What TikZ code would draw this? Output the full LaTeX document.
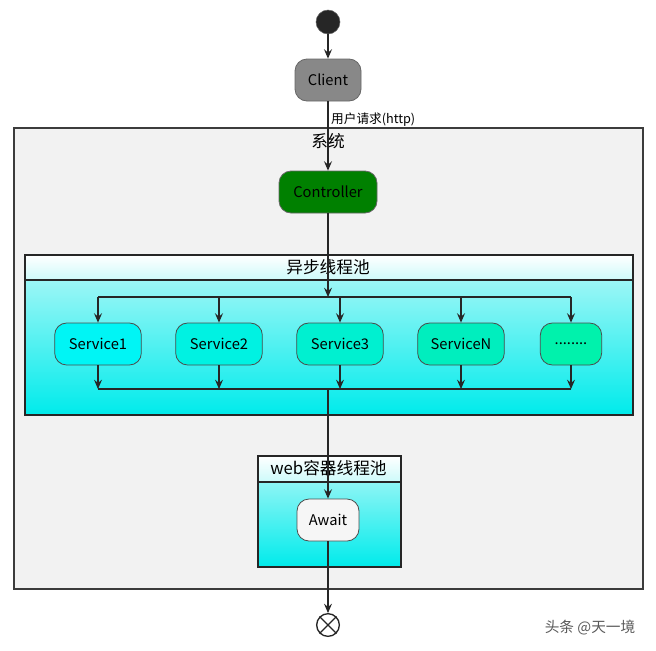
\documentclass[tikz,border=0pt]{standalone}
\usepackage{fontspec}
\setmainfont{Noto Sans CJK SC}
\usetikzlibrary{arrows.meta,calc}
\definecolor{sysfill}{RGB}{242,242,242}
\definecolor{sysdraw}{RGB}{60,60,60}
\definecolor{clientgray}{RGB}{136,136,136}
\definecolor{ctrlgreen}{RGB}{0,128,0}
\definecolor{poolhead}{RGB}{205,250,250}
\definecolor{pooltop}{RGB}{185,248,248}
\definecolor{poolbot}{RGB}{0,235,235}
\definecolor{svcone}{RGB}{0,245,245}
\definecolor{svctwo}{RGB}{0,242,226}
\definecolor{svcthree}{RGB}{0,240,208}
\definecolor{svcfour}{RGB}{0,238,190}
\definecolor{svcfive}{RGB}{0,242,172}
\definecolor{awaitfill}{RGB}{246,246,246}
\definecolor{wmark}{RGB}{90,90,90}
\tikzset{
  flow/.style={draw=black!85, line width=0.8pt, -{Stealth[length=7pt,width=6pt,inset=2.5pt]}},
  bar/.style={draw=black!85, line width=1.3pt},
  act/.style={draw=black!70, line width=0.6pt, rounded corners=9pt, minimum height=31.5pt, font=\fontsize{11}{13}\selectfont, inner sep=0pt},
  svc/.style={act, minimum width=65pt},
  container/.style={draw=sysdraw, line width=1.2pt, inner sep=0pt, anchor=north west},
  pooltitle/.style={font=\fontsize{12.5}{14}\selectfont},
}
\begin{document}
\begin{tikzpicture}[x=0.75pt,y=-0.75pt]
\useasboundingbox (0,0) rectangle (656,650);
\fill[white] (0,0) rectangle (656,650);

% system container
\node[container, fill=sysfill, minimum width=471.75pt, minimum height=345.75pt] (sys) at (13,127) {};
\node[pooltitle] (systitle) at (328,141) {系统};

% start
\node[circle, fill=black!85, draw=black!60, minimum size=18pt, inner sep=0pt] (start) at (328,22) {};
\node[act, fill=clientgray, minimum width=49.5pt, draw=black!60] (client) at (328,80) {Client};
\node[act, fill=ctrlgreen, minimum width=73.5pt, draw=black!60] (ctrl) at (328,192) {Controller};

% async pool
\node[container, draw=black!85, top color=pooltop, bottom color=poolbot, minimum width=456pt, minimum height=120pt] (pool) at (24,254) {};
\node[container, draw=black!85, top color=white, bottom color=poolhead, minimum width=456pt, minimum height=18.75pt] (poolhead) at (24,254) {};
\node[pooltitle] (pooltitle) at (328,267) {异步线程池};

\coordinate (forkL) at (98,297);
\coordinate (forkR) at (571,297);
\coordinate (forkM) at (328,297);
\coordinate (joinL) at (98,389);
\coordinate (joinR) at (571,389);
\coordinate (joinM) at (328,389);

\node[svc, fill=svcone] (s1) at (98,344) {Service1};
\node[svc, fill=svctwo] (s2) at (219,344) {Service2};
\node[svc, fill=svcthree] (s3) at (340,344) {Service3};
\node[svc, fill=svcfour] (sN) at (461,344) {ServiceN};
\node[act, fill=svcfive, minimum width=46pt] (sx) at (571,344) {........};

% web container pool
\node[container, draw=black!85, top color=pooltop, bottom color=poolbot, minimum width=107.25pt, minimum height=83.25pt] (web) at (257,455) {};
\node[container, draw=black!85, top color=white, bottom color=poolhead, minimum width=107.25pt, minimum height=19.5pt] (webhead) at (257,455) {};
\node[pooltitle] (webtitle) at (328.5,468) {web容器线程池};
\node[act, fill=awaitfill, minimum width=46.5pt] (await) at (328,520) {Await};

% end
\node[circle, draw=black!85, line width=1pt, minimum size=17pt, inner sep=0pt, fill=white] (end) at (328,625) {};
\draw[black!85, line width=1pt] (end.north east) -- (end.south west) (end.north west) -- (end.south east);

% connectors
\draw[flow] (start) -- (client);
\draw[flow] (client) -- (ctrl) node[pos=0.26, anchor=west, inner sep=2pt, font=\fontsize{9.5}{11}\selectfont] (req) {用户请求(http)};
\draw[flow] (ctrl) -- (forkM);
\draw[bar] (forkL) -- (forkR);
\foreach \s in {s1,s2,s3,sN,sx} {
  \draw[flow] (\s.north |- forkL) -- (\s.north);
  \draw[flow] (\s.south) -- (\s.south |- joinL);
}
\draw[bar] (joinL) -- (joinR);
\draw[flow] (joinM) -- (await);
\draw[flow] (await) -- (end);

\node[text=wmark, font=\fontsize{11}{13}\selectfont] (wm) at (590,628) {头条 @天一境};
\end{tikzpicture}
\end{document}
